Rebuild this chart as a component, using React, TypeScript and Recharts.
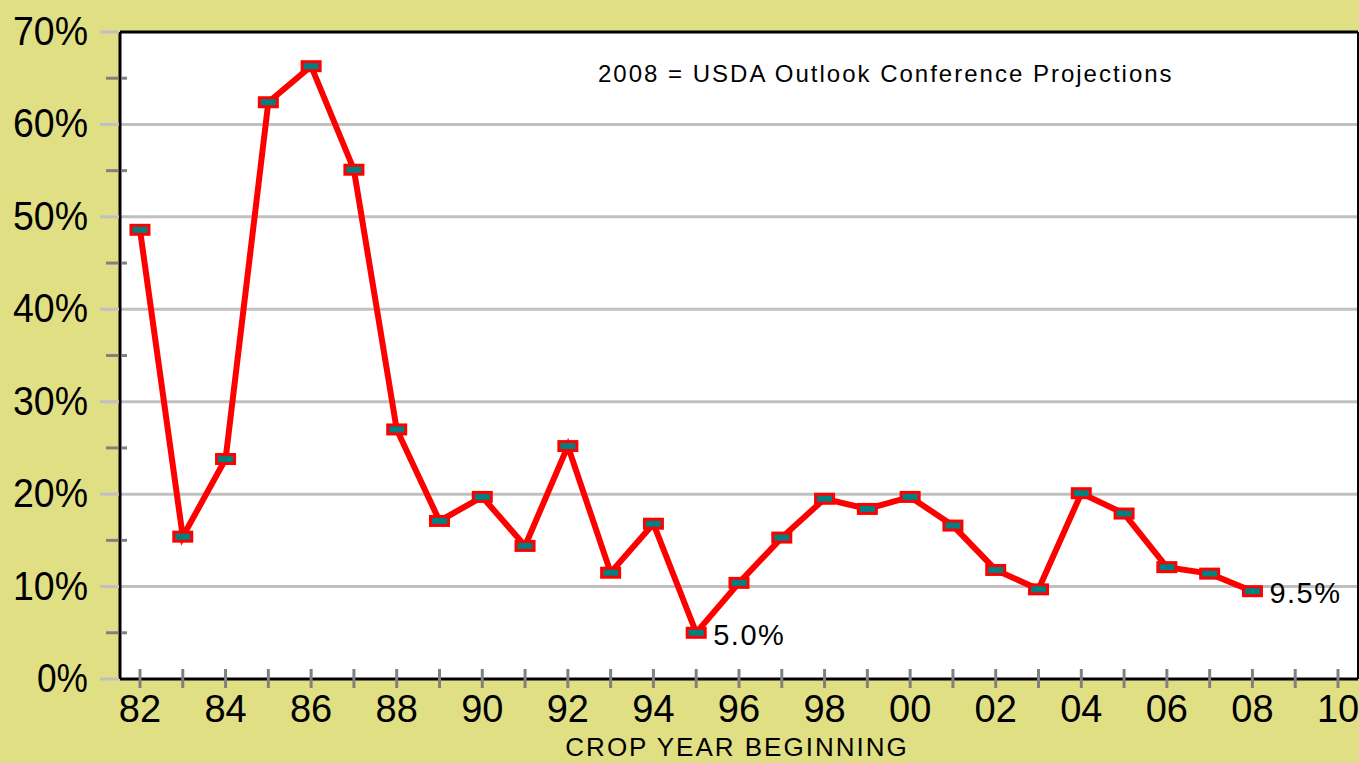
import React from 'react';
import { LineChart, Line, XAxis, YAxis, CartesianGrid, ReferenceLine, LabelList } from 'recharts';

const years = [1982, 1983, 1984, 1985, 1986, 1987, 1988, 1989, 1990, 1991, 1992, 1993, 1994, 1995, 1996, 1997, 1998, 1999, 2000, 2001, 2002, 2003, 2004, 2005, 2006, 2007, 2008];
const shares = [48.6, 15.4, 23.8, 62.4, 66.3, 55.1, 27.0, 17.1, 19.7, 14.4, 25.2, 11.5, 16.8, 5.0, 10.4, 15.3, 19.5, 18.4, 19.7, 16.6, 11.8, 9.7, 20.1, 17.9, 12.1, 11.4, 9.5];
const pointNotes = ['', '', '', '', '', '', '', '', '', '', '', '', '', '5.0%', '', '', '', '', '', '', '', '', '', '', '', '', '9.5%'];
const xTickYears = [1982, 1983, 1984, 1985, 1986, 1987, 1988, 1989, 1990, 1991, 1992, 1993, 1994, 1995, 1996, 1997, 1998, 1999, 2000, 2001, 2002, 2003, 2004, 2005, 2006, 2007, 2008, 2009, 2010];
const xLabelYears = [1982, 1984, 1986, 1988, 1990, 1992, 1994, 1996, 1998, 2000, 2002, 2004, 2006, 2008, 2010];
const yTicks = [0, 5, 10, 15, 20, 25, 30, 35, 40, 45, 50, 55, 60, 65, 70];
const yGridValues = [10, 20, 30, 40, 50, 60];
const xDomain = [1981.533, 2010.467];
const yDomain = [0, 70];
const xTitle = 'CROP YEAR BEGINNING';
const chartNote = '2008 = USDA Outlook Conference Projections';

const data = years.map((year, i) => ({ year, value: shares[i], note: pointNotes[i] }));

const FONT = '"Liberation Sans", Arial, sans-serif';
const KHAKI = '#E0DF84';

const MarkerDot = (props: any) => {
  const { cx, cy, index } = props;
  if (cx == null || cy == null) return null;
  return (
    <rect key={`dot-${index}`} x={cx - 9} y={cy - 4.5} width={18} height={9} fill="#008080" stroke="#FF0000" strokeWidth={3} />
  );
};

const YTick = (props: any) => {
  const { x, y, payload } = props;
  const v = payload.value;
  if (v % 10 === 0) {
    const label = `${v}%`;
    const nDigits = String(v).length;
    return (
      <g>
        <line x1={x - 20} x2={x - 1} y1={y} y2={y} stroke="#C0C0C0" strokeWidth={3} />
        <text
          x={x - 32}
          y={y + 13}
          textAnchor="end"
          fontSize={40}
          fontFamily={FONT}
          fill="#000"
          textLength={24 * nDigits + 27}
          lengthAdjust="spacingAndGlyphs"
        >
          {label}
        </text>
      </g>
    );
  }
  return (
    <g>
      <line x1={x - 14} x2={x - 1.5} y1={y} y2={y} stroke="#808080" strokeWidth={3} />
      <line x1={x + 1.5} x2={x + 7} y1={y} y2={y} stroke="#808080" strokeWidth={3} />
    </g>
  );
};

const XTick = (props: any) => {
  const { x, y, payload } = props;
  const yr = payload.value as number;
  const show = xLabelYears.includes(yr);
  return (
    <g>
      <line x1={x} x2={x} y1={y - 10} y2={y + 9} stroke="#808080" strokeWidth={3} />
      {show && (
        <text x={x} y={y + 43} textAnchor="middle" fontSize={38} fontFamily={FONT} fill="#000">
          {String(yr % 100).padStart(2, '0')}
        </text>
      )}
    </g>
  );
};

const NoteLabel = (props: any) => {
  const { x, y, value } = props;
  if (!value) return null;
  return (
    <text x={x + 17} y={y + 12} fontSize={29} letterSpacing={1.5} fontFamily={FONT} fill="#000">
      {value}
    </text>
  );
};

export default function App() {
  return (
    <div style={{ position: 'absolute', left: 0, top: 0, width: 1359, height: 763, background: KHAKI, overflow: 'hidden' }}>
      <LineChart width={1359} height={763} data={data} margin={{ top: 32, right: 1, bottom: 0, left: 0 }}>
        <CartesianGrid fill="#FFFFFF" horizontal={false} vertical={false} />
        <XAxis
          type="number"
          dataKey="year"
          domain={xDomain}
          allowDataOverflow
          ticks={xTickYears}
          interval={0}
          height={84}
          tickSize={0}
          tickMargin={0}
          tickLine={false}
          axisLine={{ stroke: '#000', strokeWidth: 3 }}
          tick={<XTick />}
        />
        <YAxis
          type="number"
          domain={yDomain}
          ticks={yTicks}
          interval={0}
          width={120}
          tickSize={0}
          tickMargin={0}
          tickLine={false}
          axisLine={{ stroke: '#000', strokeWidth: 3 }}
          tick={<YTick />}
        />
        {yGridValues.map((v) => (
          <ReferenceLine key={v} y={v} stroke="#C0C0C0" strokeWidth={3} />
        ))}
        <ReferenceLine y={yDomain[1]} stroke="#000" strokeWidth={3} ifOverflow="visible" />
        <ReferenceLine x={xDomain[1]} stroke="#000" strokeWidth={2} ifOverflow="visible" />
        <Line
          type="linear"
          dataKey="value"
          stroke="#FF0000"
          strokeWidth={6}
          dot={MarkerDot}
          activeDot={false}
          isAnimationActive={false}
        >
          <LabelList dataKey="note" content={NoteLabel} />
        </Line>
      </LineChart>
      <svg width={1359} height={763} style={{ position: 'absolute', left: 0, top: 0, pointerEvents: 'none' }}>
        <text x={598} y={82} fontSize={24} letterSpacing={2} fontFamily={FONT} fill="#000">
          {chartNote}
        </text>
        <text x={737} y={756} textAnchor="middle" fontSize={26} letterSpacing={2} fontFamily={FONT} fill="#000">
          {xTitle}
        </text>
      </svg>
    </div>
  );
}
